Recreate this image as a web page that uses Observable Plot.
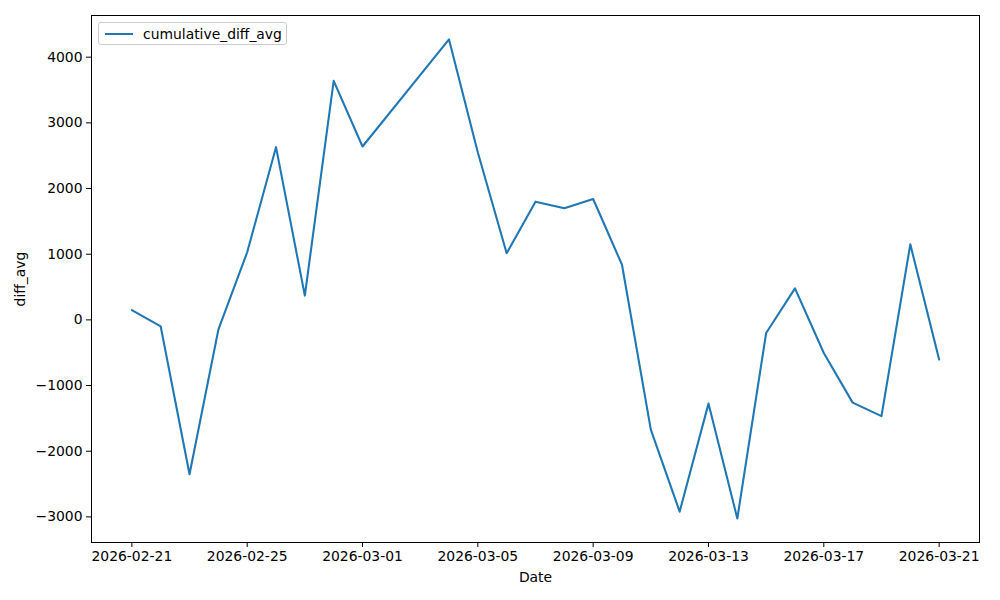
<!DOCTYPE html>
<html>
<head>
<meta charset="utf-8">
<script src="https://cdn.jsdelivr.net/npm/d3@7"></script>
<script src="https://cdn.jsdelivr.net/npm/@observablehq/plot@0.6"></script>
<style>
  body { margin: 0; background: #fff; }
  #wrap { position: relative; width: 1000px; height: 600px; font-family: "DejaVu Sans", sans-serif; }
  #legend { position: absolute; left: 98px; top: 22px; width: 189px; height: 23px; border: 1px solid #cccccc; border-radius: 3px; background: rgba(255,255,255,0.8); box-sizing: border-box; }
  #legend .swatch { position: absolute; left: 6px; top: 10px; width: 28px; height: 0; border-top: 2px solid #1f77b4; }
  #legend .lbl { position: absolute; left: 44px; top: 3px; font-size: 13.9px; line-height: 16px; color: #000; }
</style>
</head>
<body>
<div id="wrap"></div>
<script>
const dates = ["2026-02-21","2026-02-22","2026-02-23","2026-02-24","2026-02-25","2026-02-26","2026-02-27","2026-02-28","2026-03-01","2026-03-04","2026-03-05","2026-03-06","2026-03-07","2026-03-08","2026-03-09","2026-03-10","2026-03-11","2026-03-12","2026-03-13","2026-03-14","2026-03-15","2026-03-16","2026-03-17","2026-03-18","2026-03-19","2026-03-20","2026-03-21"];
const values = [150,-100,-2350,-150,1030,2630,370,3640,2640,4270,2550,1015,1800,1700,1840,840,-1670,-2920,-1275,-3025,-200,480,-505,-1260,-1465,1150,-605];
const xTickLabels = ["2026-02-21","2026-02-25","2026-03-01","2026-03-05","2026-03-09","2026-03-13","2026-03-17","2026-03-21"];
const yTicks = [-3000,-2000,-1000,0,1000,2000,3000,4000];
const seriesName = "cumulative_diff_avg";

const data = dates.map((d, i) => ({date: new Date(d + "T00:00:00Z"), value: values[i]}));
const [x0, x1] = d3.extent(data, d => d.date);
const xPad = (x1 - x0) * 0.05;
const [y0, y1] = d3.extent(values);
const yPad = (y1 - y0) * 0.05;
const fmtDate = d3.utcFormat("%Y-%m-%d");
const fmtNum = d3.format("d");

const chart = Plot.plot({
  width: 1000,
  height: 600,
  marginLeft: 91,
  marginRight: 21,
  marginTop: 15,
  marginBottom: 58,
  style: {fontFamily: "DejaVu Sans, sans-serif", fontSize: "13.9px", color: "#000", background: "#fff"},
  x: {type: "utc", domain: [new Date(+x0 - xPad), new Date(+x1 + xPad)]},
  y: {domain: [y0 - yPad, y1 + yPad]},
  marks: [
    Plot.frame({stroke: "#000", strokeWidth: 1}),
    Plot.axisX(xTickLabels.map(d => new Date(d + "T00:00:00Z")), {
      tickFormat: fmtDate, tickSize: 5, tickPadding: 4, label: "Date",
      labelAnchor: "center", labelOffset: 39, labelArrow: "none", fontSize: 13.9
    }),
    Plot.axisY(yTicks, {
      tickFormat: fmtNum, tickSize: 5, tickPadding: 4, label: "diff_avg",
      labelAnchor: "center", labelOffset: 76, labelArrow: "none", fontSize: 13.9
    }),
    Plot.line(data, {x: "date", y: "value", stroke: "#1f77b4", strokeWidth: 2.08})
  ]
});

const wrap = document.getElementById("wrap");
wrap.appendChild(chart);
const legend = document.createElement("div");
legend.id = "legend";
legend.innerHTML = `<div class="swatch"></div><div class="lbl">${seriesName}</div>`;
wrap.appendChild(legend);
</script>
</body>
</html>
